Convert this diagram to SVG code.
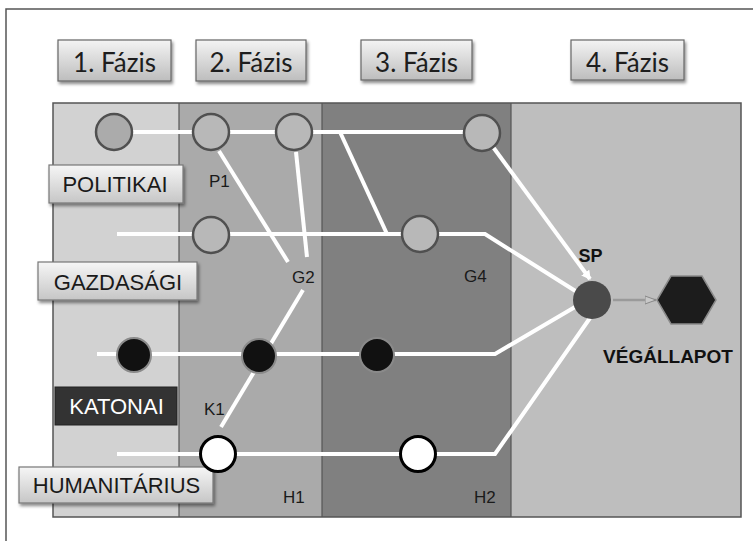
<svg xmlns="http://www.w3.org/2000/svg" width="753" height="541" viewBox="0 0 753 541">
<defs>
<linearGradient id="hdr" x1="0" y1="0" x2="0" y2="1">
<stop offset="0" stop-color="#f4f4f4"/>
<stop offset="1" stop-color="#bdbdbd"/>
</linearGradient>
<linearGradient id="lbl" x1="0" y1="0" x2="0" y2="1">
<stop offset="0" stop-color="#f6f6f6"/>
<stop offset="1" stop-color="#c6c6c6"/>
</linearGradient>
<filter id="sh" x="-10%" y="-10%" width="130%" height="140%">
<feDropShadow dx="1.5" dy="2.5" stdDeviation="1.5" flood-color="#000" flood-opacity="0.45"/>
</filter>
<marker id="wa" markerWidth="10" markerHeight="10" refX="8" refY="5" orient="auto" markerUnits="userSpaceOnUse">
<path d="M0,0 L9,5 L0,10 Z" fill="#fff"/>
</marker>
<marker id="ga" markerWidth="12" markerHeight="10" refX="11" refY="5" orient="auto" markerUnits="userSpaceOnUse">
<path d="M0,1 L11,5 L0,9 Z" fill="#c8c8c8" stroke="#888" stroke-width="1"/>
</marker>
<style>
.hbox{fill:url(#hdr);stroke:#666;stroke-width:1.2;filter:url(#sh)}
.htxt{font-family:Lato,"Open Sans",sans-serif;font-size:26px;fill:#1e1e1e;text-anchor:middle}
.lbox{fill:url(#lbl);stroke:#777;stroke-width:1.2;filter:url(#sh)}
.ltxt{font-family:"Liberation Sans",Arial,sans-serif;font-size:22px;fill:#1a1a1a;text-anchor:middle}
.tag{font-family:"Liberation Sans",Arial,sans-serif;font-size:17px;fill:#1a1a1a}
.wl{stroke:#fff;stroke-width:4;fill:none;stroke-linejoin:miter}
.pol{fill:#b8b8b8;stroke:#505050;stroke-width:2.5}
.mil{fill:#111;stroke:#8a8a8a;stroke-width:2}
.hum{fill:#fff;stroke:#000;stroke-width:3}
</style>
</defs>
<rect x="0" y="0" width="753" height="541" fill="#fff"/>
<rect x="6" y="9" width="800" height="600" fill="none" stroke="#555" stroke-width="1.5"/>

<g id="panel">
<rect x="53" y="103" width="126" height="414" fill="#d2d2d2"/>
<rect x="179" y="103" width="143" height="414" fill="#aaaaaa"/>
<rect x="322" y="103" width="189" height="414" fill="#808080"/>
<rect x="511" y="103" width="230" height="414" fill="#bebebe"/>
<line x1="179" y1="103" x2="179" y2="517" stroke="#555" stroke-width="1.2"/>
<line x1="322" y1="103" x2="322" y2="517" stroke="#555" stroke-width="1.2"/>
<line x1="511" y1="103" x2="511" y2="517" stroke="#555" stroke-width="1.2"/>
<rect x="53" y="103" width="688" height="414" fill="none" stroke="#555" stroke-width="1.5"/>
</g>

<g id="phase1"><rect class="hbox" x="58" y="40" width="113" height="41"/><text class="htxt" x="114.5" y="72">1. Fázis</text></g>
<g id="phase2"><rect class="hbox" x="196" y="40" width="110" height="41"/><text class="htxt" x="251" y="72">2. Fázis</text></g>
<g id="phase3"><rect class="hbox" x="361" y="40" width="111" height="40"/><text class="htxt" x="416.5" y="72">3. Fázis</text></g>
<g id="phase4"><rect class="hbox" x="571" y="40" width="113" height="40"/><text class="htxt" x="627.5" y="72">4. Fázis</text></g>

<g id="connectors">
<line class="wl" x1="114" y1="132" x2="482" y2="132"/>
<polyline class="wl" points="117,234 485,234 577,292"/>
<polyline class="wl" points="97,354 495,354 575,307"/>
<polyline class="wl" points="117,454 495,454 590,318"/>
<line class="wl" x1="219" y1="151" x2="288" y2="262"/>
<line class="wl" x1="296" y1="152" x2="307" y2="257"/>
<line class="wl" x1="340" y1="132" x2="387" y2="234"/>
<line class="wl" x1="303" y1="290" x2="221" y2="427"/>
<line class="wl" x1="493" y1="147" x2="590" y2="279" marker-end="url(#wa)"/>
<line x1="613" y1="300" x2="656" y2="300" stroke="#9a9a9a" stroke-width="2.5" marker-end="url(#ga)"/>
</g>

<g id="lbl-politikai"><rect class="lbox" x="49" y="165" width="134" height="38"/><text class="ltxt" x="115" y="192">POLITIKAI</text></g>
<g id="lbl-gazdasagi"><rect class="lbox" x="38" y="262" width="159" height="38"/><text class="ltxt" x="118" y="290">GAZDASÁGI</text></g>
<g id="lbl-katonai"><rect x="55" y="387" width="122" height="38" fill="#333" stroke="#222" stroke-width="1"/><text class="ltxt" x="116.5" y="414" style="fill:#fff">KATONAI</text></g>
<g id="lbl-humanitarius"><rect class="lbox" x="19" y="467" width="194" height="36"/><text class="ltxt" x="116.5" y="493">HUMANITÁRIUS</text></g>

<g id="p0"><circle class="pol" cx="114" cy="132" r="18" style="fill:#ababab"/></g>
<g id="p1"><circle class="pol" cx="211" cy="132" r="18"/><text class="tag" x="209" y="187">P1</text></g>
<g id="p2"><circle class="pol" cx="294" cy="132" r="18"/></g>
<g id="p4"><circle class="pol" cx="482" cy="133" r="18"/></g>
<g id="g1"><circle class="pol" cx="211" cy="235" r="18"/></g>
<g id="g2"><text class="tag" x="292" y="283">G2</text></g>
<g id="g4"><circle class="pol" cx="420" cy="234" r="18"/><text class="tag" x="464" y="282">G4</text></g>
<g id="k0"><circle class="mil" cx="134" cy="355" r="17"/></g>
<g id="k1"><circle class="mil" cx="259" cy="356" r="17"/><text class="tag" x="204" y="415">K1</text></g>
<g id="k3"><circle class="mil" cx="377" cy="355" r="17"/></g>
<g id="h1"><circle class="hum" cx="218" cy="454" r="17.5"/><text class="tag" x="283" y="503">H1</text></g>
<g id="h2"><circle class="hum" cx="418" cy="454" r="17.5"/><text class="tag" x="474" y="503">H2</text></g>

<g id="sp"><circle cx="592" cy="300" r="19" fill="#4a4a4a"/><text x="590.5" y="262" font-family="Liberation Sans, Arial, sans-serif" font-size="18" font-weight="bold" fill="#111" text-anchor="middle">SP</text></g>
<g id="vegallapot"><polygon points="657,300 671,276 702,276 716,300 702,324 671,324" fill="#1c1c1c" stroke="#8a8a8a" stroke-width="1.5"/><text x="668" y="363" font-family="Liberation Sans, Arial, sans-serif" font-size="19" font-weight="bold" fill="#111" text-anchor="middle">VÉGÁLLAPOT</text></g>
</svg>
